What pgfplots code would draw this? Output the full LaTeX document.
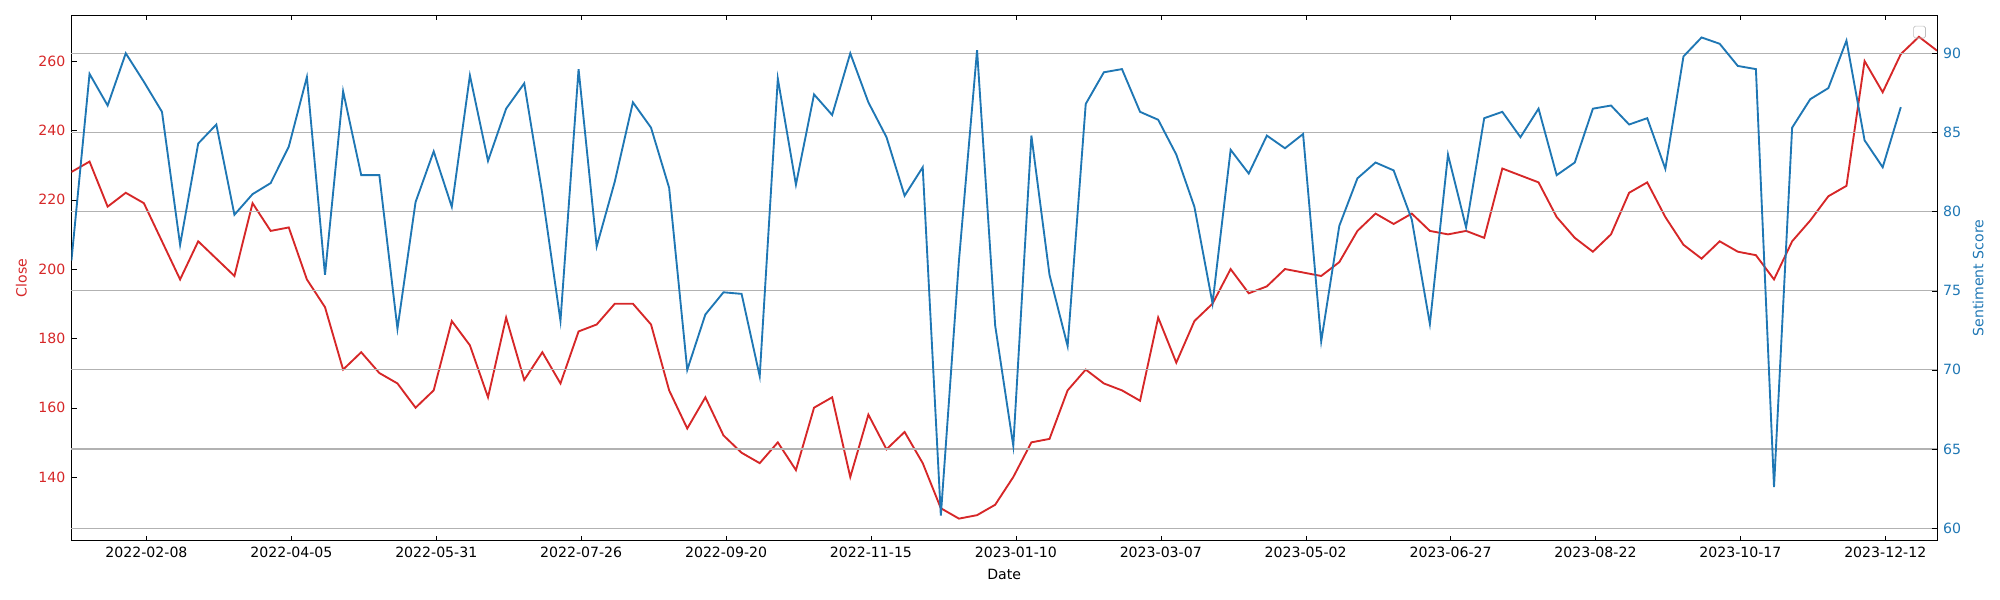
\documentclass[border=0pt]{standalone}
\usepackage{pgfplots}
\pgfplotsset{compat=1.18}
\usepackage{fontspec}
\setmainfont{DejaVu Sans}
\definecolor{tred}{HTML}{D62728}
\definecolor{tblue}{HTML}{1F77B4}
\begin{document}
\begin{tikzpicture}
\pgfplotsset{every axis/.append style={scale only axis, width=1097pt, height=309pt,
  xmin=0, xmax=721, font=\fontsize{8.3}{10}\selectfont,
  /pgf/number format/assume math mode=true,
  tick style={black}, major tick length=3pt}}
\begin{axis}[at={(0,0)}, anchor=south west,
  ymin=121.6, ymax=273.2, axis y line*=left,
  ytick={140,160,...,260}, yticklabel style={text=tred},
  xtick={29,85,...,701},
  xticklabels={2022-02-08,2022-04-05,2022-05-31,2022-07-26,2022-09-20,2022-11-15,2023-01-10,2023-03-07,2023-05-02,2023-06-27,2023-08-22,2023-10-17,2023-12-12},
  xlabel={Date}, ylabel={Close}, ylabel style={text=tred},
  x tick label style={/pgf/number format/.cd}, 
]
\addplot[tred, line width=1.1pt] table[x expr=7*\coordindex, y index=0] {
228
231
218
222
219
208
197
208
203
198
219
211
212
197
189
171
176
170
167
160
165
185
178
163
186
168
176
167
182
184
190
190
184
165
154
163
152
147
144
150
142
160
163
140
158
148
153
144
131
128
129
132
140
150
151
165
171
167
165
162
186
173
185
190
200
193
195
200
199
198
202
211
216
213
216
211
210
211
209
229
227
225
215
209
205
210
222
225
215
207
203
208
205
204
197
208
214
221
224
260
251
262
267
263
};
\end{axis}
\begin{axis}[at={(0,0)}, anchor=south west,
  ymin=59.2, ymax=92.4, axis y line*=right, axis x line=none,
  ytick={60,65,...,90}, yticklabel style={text=tblue},
  ymajorgrids, grid style={gray!60, line width=0.6pt},
  ylabel={Sentiment Score}, ylabel style={text=tblue},
]
\addplot[tblue, line width=1.1pt] table[x expr=7*\coordindex, y index=0] {
76.9
88.7
86.7
90
88.2
86.3
77.9
84.3
85.5
79.8
81.1
81.8
84.1
88.5
76
87.6
82.3
82.3
72.6
80.6
83.8
80.3
88.6
83.2
86.5
88.1
81.1
73.1
89
77.8
81.9
86.9
85.3
81.5
70
73.5
74.9
74.8
69.6
88.4
81.7
87.4
86.1
90
86.9
84.7
81
82.8
60.8
76.9
90.2
72.8
65.2
84.8
76
71.5
86.8
88.8
89
86.3
85.8
83.6
80.3
74.2
83.9
82.4
84.8
84
84.9
71.8
79.1
82.1
83.1
82.6
79.5
72.9
83.6
79
85.9
86.3
84.7
86.5
82.3
83.1
86.5
86.7
85.5
85.9
82.7
89.8
91
90.6
89.2
89
62.6
85.3
87.1
87.8
90.8
84.5
82.8
86.6
};
\node[draw=gray!50, rounded corners=1pt, minimum width=7pt, minimum height=7pt, inner sep=0pt, anchor=north east] at (rel axis cs:0.994,0.98) {};
\end{axis}
\pgfresetboundingbox
\path (-42pt,-34.5pt) rectangle (1134pt,318pt);
\end{tikzpicture}
\end{document}
